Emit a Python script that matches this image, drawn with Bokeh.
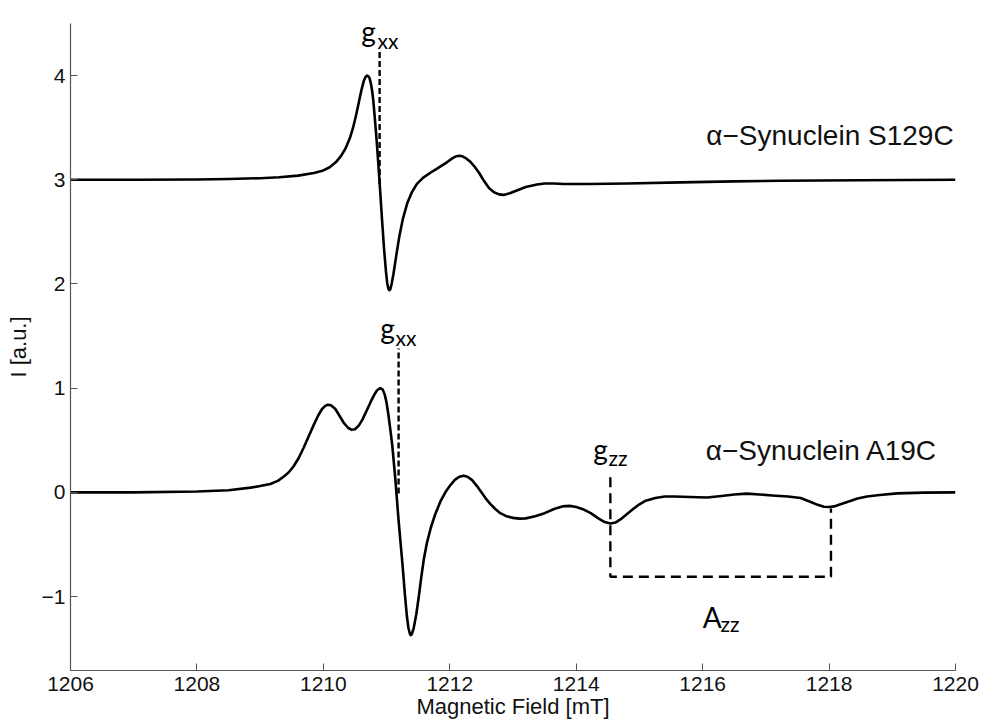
from bokeh.plotting import figure
from bokeh.models import Range1d, FixedTicker
from bokeh.core.properties import value
from bokeh.embed import file_html
from bokeh.resources import INLINE

# EPR spectra of two spin-labelled alpha-synuclein mutants (offset for clarity)
field_s129c = [1206.0, 1207.0, 1208.0, 1208.5, 1209.0, 1209.3, 1209.6, 1209.85, 1210.0,
               1210.1, 1210.2, 1210.28, 1210.35, 1210.42, 1210.47, 1210.51, 1210.55,
               1210.58, 1210.61, 1210.64, 1210.67, 1210.69, 1210.71, 1210.73, 1210.75,
               1210.77, 1210.79, 1210.81, 1210.84, 1210.87, 1210.9, 1210.93, 1210.96,
               1210.99, 1211.01, 1211.03, 1211.045, 1211.06, 1211.08, 1211.11, 1211.15,
               1211.2, 1211.26, 1211.33, 1211.4, 1211.48, 1211.58, 1211.7, 1211.83,
               1211.96, 1212.05, 1212.1, 1212.15, 1212.2, 1212.26, 1212.33, 1212.4,
               1212.47, 1212.54, 1212.62, 1212.7, 1212.78, 1212.85, 1212.95, 1213.07,
               1213.2, 1213.38, 1213.5, 1213.65, 1213.8, 1214.2, 1214.8, 1215.65,
               1216.5, 1217.23, 1218.5, 1220.0]
signal_s129c = [3.0, 3.0, 3.003, 3.008, 3.015, 3.025, 3.04, 3.065, 3.09,
                3.12, 3.17, 3.23, 3.3, 3.4, 3.5, 3.6, 3.71,
                3.8, 3.88, 3.95, 3.99, 4.0, 3.995, 3.975, 3.93,
                3.86, 3.76, 3.62, 3.4, 3.15, 2.88, 2.6, 2.34,
                2.12, 2.01, 1.95, 1.94, 1.95, 2.0, 2.1, 2.26,
                2.45, 2.63, 2.78, 2.88, 2.96, 3.02, 3.07, 3.12,
                3.17, 3.21, 3.225, 3.23, 3.225, 3.205, 3.17, 3.12,
                3.06, 2.99, 2.92, 2.88, 2.86, 2.855, 2.87, 2.9,
                2.93, 2.955, 2.965, 2.965, 2.96, 2.96, 2.965, 2.975,
                2.985, 2.99, 2.995, 3.0]

field_a19c = [1206.0, 1207.0, 1208.0, 1208.5, 1208.85, 1209.0, 1209.16, 1209.28, 1209.37,
              1209.45, 1209.53, 1209.61, 1209.69, 1209.77, 1209.85, 1209.92, 1209.98,
              1210.03, 1210.07, 1210.12, 1210.19, 1210.26, 1210.32, 1210.39, 1210.45,
              1210.5, 1210.56, 1210.62, 1210.69, 1210.75, 1210.8, 1210.85, 1210.9,
              1210.94, 1210.97, 1211.0, 1211.03, 1211.06, 1211.09, 1211.14, 1211.19,
              1211.25, 1211.29, 1211.32, 1211.345, 1211.37, 1211.385, 1211.4, 1211.43,
              1211.47, 1211.51, 1211.55, 1211.59, 1211.64, 1211.7, 1211.77, 1211.85,
              1211.93, 1212.01, 1212.08, 1212.15, 1212.22, 1212.28, 1212.35, 1212.43,
              1212.5, 1212.57, 1212.64, 1212.72, 1212.8, 1212.9, 1213.0, 1213.1,
              1213.2, 1213.35, 1213.5, 1213.65, 1213.78, 1213.9, 1214.0, 1214.12,
              1214.23, 1214.35, 1214.45, 1214.54, 1214.62, 1214.7, 1214.8, 1214.9,
              1215.0, 1215.1, 1215.25, 1215.4, 1215.55, 1215.8, 1216.07, 1216.3,
              1216.5, 1216.7, 1216.9, 1217.1, 1217.35, 1217.55, 1217.7, 1217.82,
              1217.92, 1218.0, 1218.08, 1218.18, 1218.3, 1218.45, 1218.6, 1218.8,
              1219.08, 1219.5, 1220.0]
signal_a19c = [0.0, 0.0, 0.008, 0.02, 0.045, 0.06, 0.08, 0.11, 0.15,
               0.19, 0.25, 0.33, 0.43, 0.54, 0.65, 0.74, 0.8,
               0.83, 0.84, 0.835, 0.8, 0.73, 0.67, 0.62, 0.6,
               0.605, 0.64, 0.7, 0.79, 0.87, 0.93, 0.98, 1.0,
               0.985, 0.94, 0.86, 0.74, 0.6, 0.45, 0.12, -0.27,
               -0.68, -0.98, -1.18, -1.3, -1.36, -1.37, -1.36, -1.3,
               -1.17, -1.0, -0.81, -0.64, -0.48, -0.34, -0.21, -0.09,
               0.0, 0.07, 0.12, 0.15, 0.16, 0.15, 0.12, 0.06,
               0.0, -0.06, -0.11, -0.16, -0.2, -0.23, -0.245, -0.252,
               -0.25, -0.23, -0.2, -0.16, -0.135, -0.13, -0.14, -0.165,
               -0.2, -0.25, -0.285, -0.3, -0.29, -0.26, -0.21, -0.16,
               -0.115, -0.08, -0.055, -0.04, -0.04, -0.045, -0.05, -0.035,
               -0.02, -0.012, -0.02, -0.03, -0.04, -0.055, -0.09, -0.12,
               -0.138, -0.14, -0.135, -0.115, -0.09, -0.06, -0.04, -0.025,
               -0.01, -0.003, 0.0]

x_ticks = [1206, 1208, 1210, 1212, 1214, 1216, 1218, 1220]
y_ticks = [-1, 0, 1, 2, 3, 4]

# g-tensor / hyperfine markers
gxx_s129c = 1210.89
gxx_s129c_span = [2.96, 4.24]
gxx_a19c = 1211.19
gxx_a19c_span = [-0.01, 1.38]
gzz_a19c = 1214.54
azz_end = 1218.03
azz_level = -0.81
gzz_top = 0.145
azz_top = -0.155

p = figure(width=981, height=722, output_backend="svg", toolbar_location=None,
           x_range=Range1d(1206, 1220), y_range=Range1d(-1.71, 4.5),
           min_border_left=70, min_border_right=26, min_border_top=23,
           min_border_bottom=52, background_fill_color="white",
           border_fill_color="white", outline_line_color=None)
p.grid.visible = False

p.line(field_s129c, signal_s129c, line_color="black", line_width=2.6, line_join="round")
p.line(field_a19c, signal_a19c, line_color="black", line_width=2.6, line_join="round")

dash_kw = dict(line_color="black", line_width=2.4)
p.line([gxx_s129c, gxx_s129c], gxx_s129c_span, line_dash="6 3", **dash_kw)
p.line([gxx_a19c, gxx_a19c], gxx_a19c_span, line_dash="6 3", **dash_kw)
p.line([gzz_a19c, gzz_a19c, azz_end, azz_end],
       [gzz_top, azz_level, azz_level, azz_top], line_dash="10 6", **dash_kw)

ann_font = value("Lato")
main_sz = "28px"
sub_sz = "21px"
p.text(x=[1210.60, 1210.90, 1214.27], y=[4.424, 1.574, 0.413], text=["g", "g", "g"],
       text_font=ann_font, text_font_size=main_sz, text_color="black",
       text_baseline="alphabetic", text_align="left")
p.text(x=[1210.857, 1211.142], y=[4.338, 1.488], text=["xx", "xx"],
       text_font=ann_font, text_font_size=sub_sz, text_color="black",
       text_baseline="alphabetic", text_align="left")
p.text(x=[1214.51, 1216.283], y=[0.336, -1.257], text=["zz", "zz"],
       text_font=ann_font, text_font_size=sub_sz, text_color="black",
       text_baseline="alphabetic", text_align="left")
p.text(x=[1216.0], y=[-1.2], text=["A"],
       text_font=ann_font, text_font_size=main_sz, text_color="black",
       text_baseline="alphabetic", text_align="left")

p.text(x=[1219.97, 1219.716], y=[3.426, 0.403],
       text=["\u03b1\u2212Synuclein S129C", "\u03b1\u2212Synuclein A19C"],
       text_font=value("Liberation Sans"), text_font_size="28px", text_color="#111111",
       text_baseline="alphabetic", text_align="right")

# MATLAB-like axes: ticks inside, no box
for ax in (p.xaxis[0], p.yaxis[0]):
    ax.axis_line_color = "#555555"
    ax.axis_line_width = 1.2
    ax.major_tick_line_color = "#555555"
    ax.major_tick_in = 7
    ax.major_tick_out = 0
    ax.minor_tick_line_color = None
    ax.major_label_text_font = "Liberation Sans"
    ax.major_label_text_font_size = "21px"
    ax.major_label_text_color = "#111111"
    ax.axis_label_text_font = "Liberation Sans"
    ax.axis_label_text_font_size = "22px"
    ax.axis_label_text_font_style = "normal"
    ax.axis_label_text_color = "#111111"

p.xaxis.ticker = FixedTicker(ticks=x_ticks)
p.yaxis.ticker = FixedTicker(ticks=y_ticks)
p.yaxis.major_label_overrides = {-1: "\u22121"}
p.xaxis.axis_label = "Magnetic Field [mT]"
p.yaxis.axis_label = "I [a.u.]"
p.xaxis.major_label_standoff = 6
p.xaxis.axis_label_standoff = 0
p.yaxis.major_label_standoff = 5
p.yaxis.axis_label_standoff = 8

open("out.html", "w").write(file_html(p, INLINE))
